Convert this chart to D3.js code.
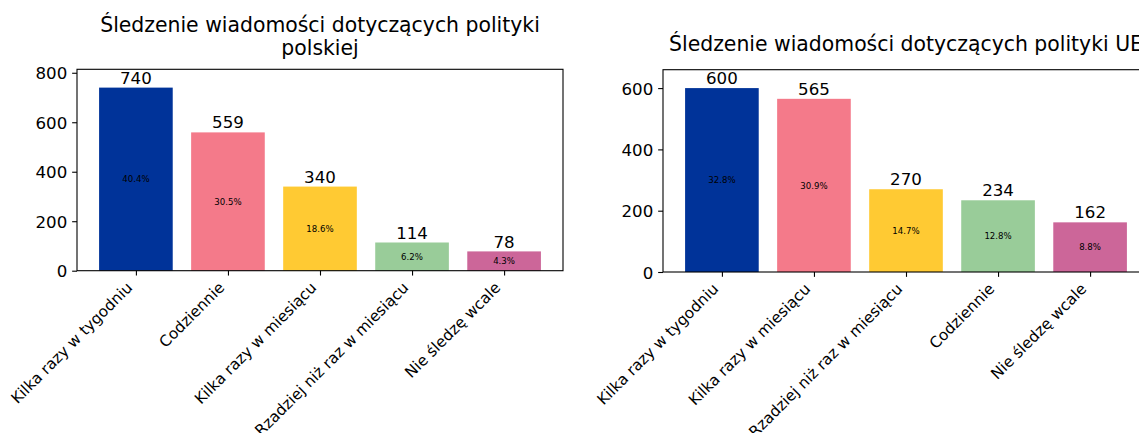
<!DOCTYPE html>
<html>
<head>
<meta charset="utf-8">
<script src="https://cdn.jsdelivr.net/npm/d3@7"></script>
<style>
  body { margin: 0; background: #fff; }
  svg { display: block; font-family: "DejaVu Sans", sans-serif; }
</style>
</head>
<body>
<div id="chart"></div>
<script>
const colors = ['#003399', '#F47A8A', '#FFCA33', '#99CC99', '#CC6699'];

const plCategories = ['Kilka razy w tygodniu', 'Codziennie', 'Kilka razy w miesiącu', 'Rzadziej niż raz w miesiącu', 'Nie śledzę wcale'];
const plValues = [740, 559, 340, 114, 78];
const plPercents = ['40.4%', '30.5%', '18.6%', '6.2%', '4.3%'];
const plTicks = [0, 200, 400, 600, 800];
const plTitle = ['Śledzenie wiadomości dotyczących polityki', 'polskiej'];

const euCategories = ['Kilka razy w tygodniu', 'Kilka razy w miesiącu', 'Rzadziej niż raz w miesiącu', 'Codziennie', 'Nie śledzę wcale'];
const euValues = [600, 565, 270, 234, 162];
const euPercents = ['32.8%', '30.9%', '14.7%', '12.8%', '8.8%'];
const euTicks = [0, 200, 400, 600];
const euTitle = ['Śledzenie wiadomości dotyczących polityki UE'];

const W = 1139, H = 433;
const svg = d3.select('#chart').append('svg').attr('width', W).attr('height', H);

function drawPanel(opt) {
  const { left, right, top, bottom, cats, vals, pcts, ticks, title, titleY } = opt;
  const n = cats.length;
  // matplotlib-like x domain: bars of width 0.8 plus 5% margins
  const x = d3.scaleLinear().domain([-0.64, n - 1 + 0.64]).range([left, right]);
  const y = d3.scaleLinear().domain([0, d3.max(vals) * 1.1]).range([bottom, top]);
  const g = svg.append('g');

  g.selectAll('rect.bar').data(vals).join('rect')
    .attr('x', (d, i) => x(i - 0.4))
    .attr('width', x(0.8) - x(0))
    .attr('y', d => y(d))
    .attr('height', d => y(0) - y(d))
    .attr('fill', (d, i) => colors[i]);

  g.selectAll('text.val').data(vals).join('text')
    .attr('x', (d, i) => x(i))
    .attr('y', d => y(d) - 3.9)
    .attr('text-anchor', 'middle')
    .attr('font-size', 16.67)
    .attr('fill', '#000')
    .text(d => d);

  g.selectAll('text.pct').data(vals).join('text')
    .attr('x', (d, i) => x(i))
    .attr('y', d => y(d / 2))
    .attr('dy', '0.36em')
    .attr('text-anchor', 'middle')
    .attr('font-size', 8.6)
    .attr('fill', '#000')
    .text((d, i) => pcts[i]);

  // frame
  g.append('rect')
    .attr('x', left).attr('y', top)
    .attr('width', right - left).attr('height', bottom - top)
    .attr('fill', 'none').attr('stroke', '#000').attr('stroke-width', 1.1);

  const yAxis = g.append('g').attr('transform', `translate(${left},0)`)
    .call(d3.axisLeft(y).tickValues(ticks).tickSize(4.86).tickPadding(4.86));
  yAxis.select('.domain').remove();
  yAxis.selectAll('line').attr('stroke', '#000').attr('stroke-width', 1.1);
  yAxis.selectAll('text').attr('font-size', 16.67).attr('fill', '#000')
    .attr('font-family', '"DejaVu Sans", sans-serif').attr('dy', '0.36em');

  const xAxis = g.append('g').attr('transform', `translate(0,${bottom})`)
    .call(d3.axisBottom(x).tickValues(d3.range(n)).tickSize(4.86).tickFormat(''));
  xAxis.select('.domain').remove();
  xAxis.selectAll('line').attr('stroke', '#000').attr('stroke-width', 1.1);

  const fs = 15.3, asc = 0.76 * fs, desc = 0.24 * fs, r2 = Math.SQRT2;
  const y0 = bottom + 9.72;
  g.selectAll('text.xlab').data(cats).join('text')
    .attr('transform', (d, i) => `translate(${x(i) - desc / r2},${y0 + asc / r2}) rotate(-45)`)
    .attr('text-anchor', 'end')
    .attr('font-size', fs)
    .attr('fill', '#000')
    .text(d => d);

  const tt = g.append('text')
    .attr('text-anchor', 'middle')
    .attr('font-size', 20.4)
    .attr('fill', '#000');
  title.forEach((line, i) => {
    tt.append('tspan').attr('x', (left + right) / 2).attr('y', titleY + i * 23.4).text(line);
  });
}

drawPanel({ left: 77, right: 563, top: 69.3, bottom: 270.7,
  cats: plCategories, vals: plValues, pcts: plPercents, ticks: plTicks,
  title: plTitle, titleY: 31.8 });

drawPanel({ left: 663, right: 1149, top: 69.7, bottom: 272,
  cats: euCategories, vals: euValues, pcts: euPercents, ticks: euTicks,
  title: euTitle, titleY: 50.7 });
</script>
</body>
</html>
